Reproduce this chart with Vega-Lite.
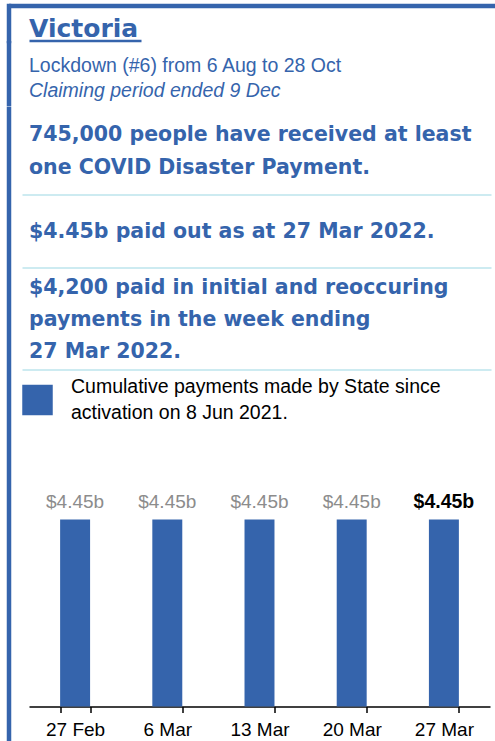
{
  "$schema": "https://vega.github.io/schema/vega-lite/v6.json",
  "background": "white",
  "padding": {"left": 8.5, "top": 5.5, "right": 0, "bottom": 0},
  "spacing": 0,
  "bounds": "flush",
  "resolve": {"legend": {"color": "independent"}},
  "config": {
    "view": {"stroke": null},
    "axis": {"grid": false, "ticks": false, "labels": false, "title": null, "minExtent": 0, "maxExtent": 0},
    "axisY": {"minExtent": 0, "maxExtent": 0},
    "axisX": {"minExtent": 0}
  },
  "datasets": {
    "title": [{"line": "Victoria"}],
    "period": [
      {"item": "lockdown", "line": "Lockdown (#6) from 6 Aug to 28 Oct"},
      {"item": "claiming", "line": "Claiming period ended 9 Dec"}
    ],
    "recipients": [
      {"line": "745,000 people have received at least"},
      {"line": "one COVID Disaster Payment."}
    ],
    "paid": [{"line": "$4.45b paid out as at 27 Mar 2022."}],
    "weekly": [
      {"line": "$4,200 paid in initial and reoccuring"},
      {"line": "payments in the week ending"},
      {"line": "27 Mar 2022."}
    ],
    "bars": [
      {"week": "27 Feb", "value": 4.45, "label": "$4.45b", "series": "Cumulative payments made by State since activation on 8 Jun 2021."},
      {"week": "6 Mar", "value": 4.45, "label": "$4.45b", "series": "Cumulative payments made by State since activation on 8 Jun 2021."},
      {"week": "13 Mar", "value": 4.45, "label": "$4.45b", "series": "Cumulative payments made by State since activation on 8 Jun 2021."},
      {"week": "20 Mar", "value": 4.45, "label": "$4.45b", "series": "Cumulative payments made by State since activation on 8 Jun 2021."},
      {"week": "27 Mar", "value": 4.45, "label": "$4.45b", "series": "Cumulative payments made by State since activation on 8 Jun 2021."}
    ]
  },
  "vconcat": [
    {
      "width": 486.5,
      "height": 35,
      "data": {"name": "title"},
      "layer": [
        {
          "mark": {"type": "text", "align": "left", "baseline": "alphabetic", "font": "DejaVu Sans", "fontWeight": "bold", "fontSize": 25, "color": "#3564ac"},
          "encoding": {
            "x": {"datum": 0, "type": "quantitative", "scale": {"domain": [0, 1], "range": [20.5, 132.5]},
                  "axis": {"orient": "bottom", "domain": true, "domainColor": "#3564ac", "domainWidth": 2.5}},
            "y": {"field": "line", "type": "nominal", "sort": null, "scale": {"type": "point", "align": 0.9},
                  "axis": {"orient": "left", "domain": true, "domainColor": "#3564ac", "domainWidth": 4.5, "domainCap": "square"}},
            "text": {"field": "line"}
          }
        },
        {
          "mark": {"type": "text", "opacity": 0, "align": "left", "baseline": "alphabetic", "fontSize": 1},
          "encoding": {
            "x": {"datum": 0, "type": "quantitative", "scale": {"domain": [0, 1]},
                  "axis": {"orient": "top", "domain": true, "domainColor": "#3564ac", "domainWidth": 4.5}},
            "y": {"field": "line", "type": "nominal", "sort": null},
            "text": {"field": "line"}
          }
        }
      ],
      "resolve": {"scale": {"x": "independent"}, "axis": {"x": "independent"}}
    },
    {
      "width": 486.5,
      "height": 65.5,
      "data": {"name": "period"},
      "encoding": {
        "x": {"datum": 0, "type": "quantitative", "scale": {"domain": [0, 1], "range": [13.5, 482.5]}, "axis": null},
        "y": {"field": "line", "type": "nominal", "sort": null, "scale": {"type": "point", "padding": 0.826, "align": 0.772},
              "axis": {"orient": "left", "domain": true, "domainColor": "#3564ac", "domainWidth": 4.5}},
        "text": {"field": "line"}
      },
      "layer": [
        {
          "transform": [{"filter": "datum.item == 'lockdown'"}],
          "mark": {"type": "text", "align": "left", "baseline": "alphabetic", "dx": 7, "font": "Liberation Sans", "fontSize": 19.5, "color": "#3564ac"}
        },
        {
          "transform": [{"filter": "datum.item == 'claiming'"}],
          "mark": {"type": "text", "align": "left", "baseline": "alphabetic", "dx": 7, "font": "Liberation Sans", "fontSize": 19.5, "fontStyle": "italic", "color": "#3564ac"}
        }
      ]
    },
    {
      "width": 486.5,
      "height": 88,
      "data": {"name": "recipients"},
      "mark": {"type": "text", "align": "left", "baseline": "alphabetic", "dx": 7, "font": "DejaVu Sans", "fontWeight": "bold", "fontSize": 20.5, "color": "#3564ac"},
      "encoding": {
        "x": {"datum": 0, "type": "quantitative", "scale": {"domain": [0, 1], "range": [13.5, 482.5]},
              "axis": {"orient": "bottom", "domain": true, "domainColor": "#cdebf1", "domainWidth": 2}},
        "y": {"field": "line", "type": "nominal", "sort": null, "scale": {"type": "point", "padding": 0.85, "align": 0.626},
              "axis": {"orient": "left", "domain": true, "domainColor": "#3564ac", "domainWidth": 4.5}},
        "text": {"field": "line"}
      }
    },
    {
      "width": 486.5,
      "height": 73,
      "data": {"name": "paid"},
      "mark": {"type": "text", "align": "left", "baseline": "alphabetic", "dx": 7, "font": "DejaVu Sans", "fontWeight": "bold", "fontSize": 20.5, "color": "#3564ac"},
      "encoding": {
        "x": {"datum": 0, "type": "quantitative", "scale": {"domain": [0, 1], "range": [13.5, 482.5]},
              "axis": {"orient": "bottom", "domain": true, "domainColor": "#cdebf1", "domainWidth": 2}},
        "y": {"field": "line", "type": "nominal", "sort": null, "scale": {"type": "point", "align": 0.599},
              "axis": {"orient": "left", "domain": true, "domainColor": "#3564ac", "domainWidth": 4.5}},
        "text": {"field": "line"}
      }
    },
    {
      "width": 486.5,
      "height": 102,
      "data": {"name": "weekly"},
      "mark": {"type": "text", "align": "left", "baseline": "alphabetic", "dx": 7, "font": "DejaVu Sans", "fontWeight": "bold", "fontSize": 20.5, "color": "#3564ac"},
      "encoding": {
        "x": {"datum": 0, "type": "quantitative", "scale": {"domain": [0, 1], "range": [13.5, 482.5]},
              "axis": {"orient": "bottom", "domain": true, "domainColor": "#cdebf1", "domainWidth": 2}},
        "y": {"field": "line", "type": "nominal", "sort": null, "scale": {"type": "point", "padding": 0.594, "align": 0.697},
              "axis": {"orient": "left", "domain": true, "domainColor": "#3564ac", "domainWidth": 4.5}},
        "text": {"field": "line"}
      }
    },
    {
      "width": 486.5,
      "height": 372,
      "data": {"name": "bars"},
      "encoding": {
        "x": {"field": "week", "type": "nominal", "sort": null,
              "scale": {"type": "band", "range": [20.5, 481.5], "paddingInner": 0.675, "paddingOuter": 0.3375},
              "axis": {"orient": "bottom", "offset": -35, "tickBand": "extent", "domain": true, "domainColor": "#000000", "domainWidth": 1.5,
                       "ticks": true, "tickColor": "#000000", "tickWidth": 1.5, "tickSize": 6,
                       "labels": true, "labelFont": "Liberation Sans", "labelFontSize": 19, "labelColor": "#000000", "labelPadding": 8, "labelAngle": 0, "title": null}},
        "y": {"field": "value", "type": "quantitative",
              "scale": {"domain": [-0.833, 8.02], "nice": false, "zero": false},
              "axis": {"orient": "left", "domain": true, "domainColor": "#3564ac", "domainWidth": 4.5}}
      },
      "layer": [
        {
          "mark": {"type": "bar"},
          "encoding": {
            "color": {"field": "series", "type": "nominal", "scale": {"range": ["#3564ac"]},
                      "legend": {"orient": "none", "legendX": 13.5, "legendY": 15, "padding": 0,
                                 "title": ["Cumulative payments made by State since", "activation on 8 Jun 2021."],
                                 "titleOrient": "right", "titleAnchor": "middle", "titleBaseline": "middle",
                                 "titleFont": "Liberation Sans", "titleFontSize": 19.5, "titleFontWeight": "normal",
                                 "titleColor": "#000000", "titleLineHeight": 26, "titlePadding": 18, "titleLimit": 600,
                                 "symbolType": "square", "symbolSize": 930, "symbolStrokeWidth": 0, "symbolOpacity": 1,
                                 "labelExpr": "''", "labelOffset": 0, "labelFontSize": 1}}
          }
        },
        {
          "transform": [{"filter": "datum.week != '27 Mar'"}],
          "mark": {"type": "text", "baseline": "alphabetic", "dy": -12, "font": "Liberation Sans", "fontSize": 19, "color": "#8c8c8c"},
          "encoding": {"text": {"field": "label"}}
        },
        {
          "transform": [{"filter": "datum.week == '27 Mar'"}],
          "mark": {"type": "text", "baseline": "alphabetic", "dy": -12, "font": "Liberation Sans", "fontSize": 19.5, "fontWeight": "bold", "color": "#000000"},
          "encoding": {"text": {"field": "label"}}
        }
      ]
    }
  ]
}
